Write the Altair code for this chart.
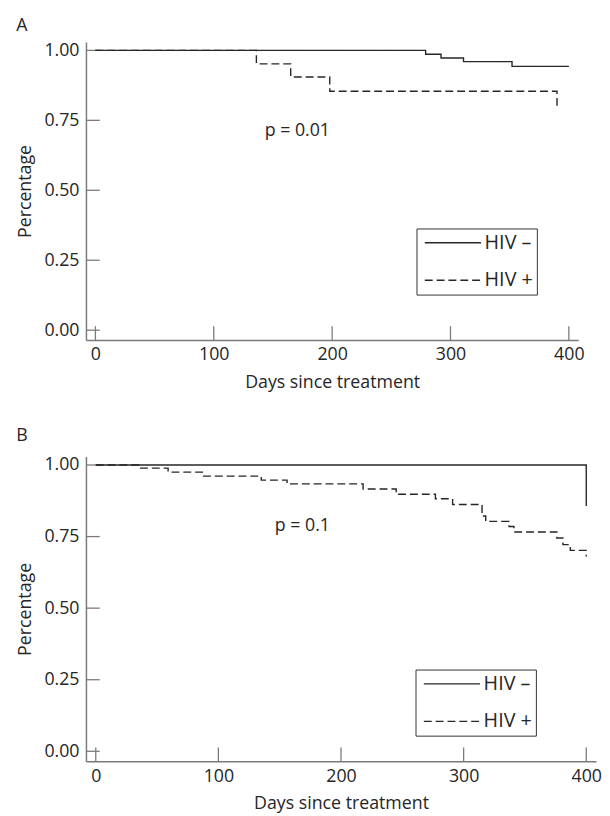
import altair as alt
import pandas as pd

FONT = "Open Sans"
INK = "#262626"
AXIS = "#7a7a7a"

series = ["HIV –", "HIV +"]
x_ticks = [0, 100, 200, 300, 400]
y_ticks = [0.0, 0.25, 0.50, 0.75, 1.00]

# Panel A
a_neg_days = [0, 279, 292, 311, 352, 400]
a_neg_surv = [1.0, 0.986, 0.973, 0.960, 0.943, 0.943]
a_pos_days = [0, 136, 165, 198, 390]
a_pos_surv = [1.0, 0.952, 0.905, 0.854, 0.793]

# Panel B
b_neg_days = [0, 400]
b_neg_surv = [1.0, 0.857]
b_pos_days = [0, 35, 59, 88, 135, 156, 218, 245, 277, 291, 315, 318, 337, 341, 376, 381, 387, 400]
b_pos_surv = [1.0, 0.989, 0.975, 0.961, 0.947, 0.934, 0.916, 0.898, 0.882, 0.862,
              0.822, 0.803, 0.785, 0.766, 0.745, 0.722, 0.702, 0.680]

x_dom = [-8, 408]
y_dom = [-0.035, 1.03]


def panel(letter, neg_days, neg_surv, pos_days, pos_surv, p_text, p_day, p_val,
          w, h, lx, ly, toff):
    df = pd.DataFrame({
        "day": neg_days + pos_days,
        "surv": neg_surv + pos_surv,
        "group": [series[0]] * len(neg_days) + [series[1]] * len(pos_days),
    })
    xs = alt.Scale(domain=x_dom, nice=False, zero=False)
    ys = alt.Scale(domain=y_dom, nice=False, zero=False)
    xax = alt.Axis(values=x_ticks, title="Days since treatment", format="d")
    yax = alt.Axis(values=y_ticks, title="Percentage", format=".2f")

    lines = alt.Chart(df).mark_line(interpolate="step-after", color=INK, strokeWidth=1.4).encode(
        x=alt.X("day:Q", scale=xs, axis=xax),
        y=alt.Y("surv:Q", scale=ys, axis=yax),
        strokeDash=alt.StrokeDash(
            "group:N",
            scale=alt.Scale(domain=series, range=[[1, 0], [8, 4]]),
            legend=alt.Legend(
                title=None, orient="none", legendX=lx, legendY=ly,
                symbolType="M-0.64,0H5.36", symbolSize=361, symbolStrokeWidth=1.4,
                symbolStrokeColor=INK, labelFont=FONT, labelFontSize=20,
                labelColor=INK, labelOffset=44, padding=4, rowPadding=17,
                strokeColor="#333333", direction="vertical",
            ),
        ),
    )

    xt = alt.Chart(pd.DataFrame({"day": x_ticks})).mark_rule(color=AXIS, strokeWidth=1.3).encode(
        x=alt.X("day:Q", scale=xs, axis=xax),
        y=alt.value(h), y2=alt.value(h - 14),
    )
    yt = alt.Chart(pd.DataFrame({"surv": y_ticks})).mark_rule(color=AXIS, strokeWidth=1.3).encode(
        y=alt.Y("surv:Q", scale=ys, axis=yax),
        x=alt.value(0), x2=alt.value(14),
    )
    ptxt = alt.Chart(pd.DataFrame({"day": [p_day], "surv": [p_val], "lab": [p_text]})).mark_text(
        align="left", baseline="middle", font=FONT, fontSize=18, color=INK
    ).encode(
        x=alt.X("day:Q", scale=xs, axis=xax),
        y=alt.Y("surv:Q", scale=ys, axis=yax),
        text="lab:N",
    )
    return alt.layer(yt, xt, lines, ptxt).properties(
        width=w, height=h,
        title=alt.TitleParams(letter, anchor="start", font=FONT, fontSize=18,
                              fontWeight="normal", color=INK, baseline="alphabetic",
                              offset=toff),
    )


pa = panel("A", a_neg_days, a_neg_surv, a_pos_days, a_pos_surv, "p = 0.01", 143, 0.71,
           499, 302, 335, 189, -7)
pb = panel("B", b_neg_days, b_neg_surv, b_pos_days, b_pos_surv, "p = 0.1", 146, 0.787,
           517, 309, 334, 216, -3)

chart = alt.vconcat(pa, pb, spacing=36).resolve_scale(
    strokeDash="independent"
).resolve_legend(
    strokeDash="independent"
).properties(
    padding={"left": 8, "top": 3, "right": 0, "bottom": 0}
).configure_view(stroke=None).configure_axis(
    grid=False, ticks=False, domainColor=AXIS, domainWidth=1.5,
    labelFont=FONT, labelFontSize=18, labelColor=INK, labelPadding=6,
    titleFont=FONT, titleFontSize=18, titleFontWeight="normal", titleColor=INK,
    titlePadding=10,
).configure_axisX(labelPadding=6).configure_axisY(labelPadding=7)

chart.save("out.html", embed_options={"renderer": "svg", "actions": False})
